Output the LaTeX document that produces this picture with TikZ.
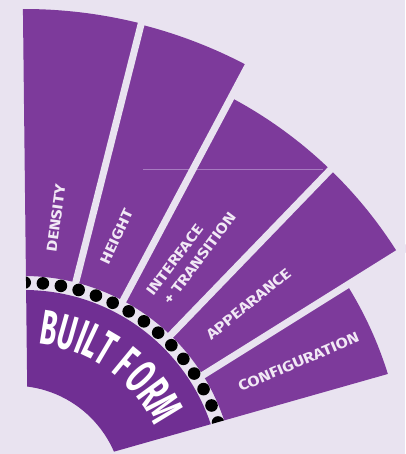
\documentclass[tikz,border=0pt]{standalone}
\usepackage{fontspec}
\setmainfont{Fira Sans}
\newfontfamily\bfcond[FakeStretch=0.55]{Fira Sans}
\newfontfamily\labfont[FakeStretch=1.22]{Fira Sans}
\definecolor{bg}{HTML}{E9E3F0}
\definecolor{seg}{HTML}{7D3A9B}
\definecolor{core}{HTML}{702F93}
\definecolor{lbl}{HTML}{F1E8F5}
\definecolor{faint}{HTML}{A77BC0}
\newcommand\fansector[4]{\fill[seg] (#1:#3) arc[start angle=#1,end angle=#2,radius=#3] -- (#2:#4) arc[start angle=#2,end angle=#1,radius=#4] -- cycle;}
\tikzset{
  bf/.style={font=\bfcond\bfseries\fontsize{49}{49}\selectfont, text=white, inner sep=0pt, anchor=base},
  lab/.style={font=\labfont\bfseries\fontsize{14.5}{19}\selectfont, text=lbl, inner sep=0pt},
  gapline/.style={draw=bg, line width=7pt},
}
\begin{document}
\begin{tikzpicture}[x=1pt,y=1pt]
\fill[bg] (0,0) rectangle (405,-454);
\useasboundingbox (0,0) rectangle (405,-454);
\begin{scope}
  \clip (22.6,20) -- (28.2,-476) -- (430,-362) -- (430,20) -- cycle;
  \begin{scope}[shift={(24,-487)}]
    \fansector{75.8}{95}{211}{478}
    \fansector{62}{75.8}{211}{477}
    \fansector{46}{62}{211}{441}
    \fansector{32}{46}{211}{441}
    \fansector{0}{32}{211}{381}
  \end{scope}
  \draw[faint, line width=0.6pt] (143,-169) -- (323,-169);
  \begin{scope}[shift={(24,-487)}]
    \foreach \g in {75.8,62,46,32} \draw[gapline] (\g:205) -- (\g:495);
    \fill[core, even odd rule] (0,0) circle[radius=197] (-10.4,-8) circle[radius=109.3];
    \foreach \k in {0,...,15} \fill[black] ({89.8-5.1*\k}:204.5) circle[radius=6.3];
  \end{scope}
\end{scope}
\begin{scope}[shift={(24,-487)}]
  \foreach \a/\l in {80.8/B,74.2/U,68.9/I,64.7/L,59.4/T,50.5/F,43.2/O,36.3/R,29.0/M}
    \node[bf, rotate=\a-90] (bf\l) at (\a:144) {\l};
\end{scope}
\node[lab, rotate=82] (density) at (56,-218) {DENSITY};
\node[lab, rotate=65] (height) at (116.5,-236.5) {HEIGHT};
\node[lab, rotate=53, align=left] (interface) at (191,-254) {INTERFACE\\\hspace{3pt}+ TRANSITION};
\node[lab, rotate=39] (appearance) at (248.5,-304) {APPEARANCE};
\node[lab, rotate=23] (configuration) at (298.5,-362) {CONFIGURATION};
\end{tikzpicture}
\end{document}
